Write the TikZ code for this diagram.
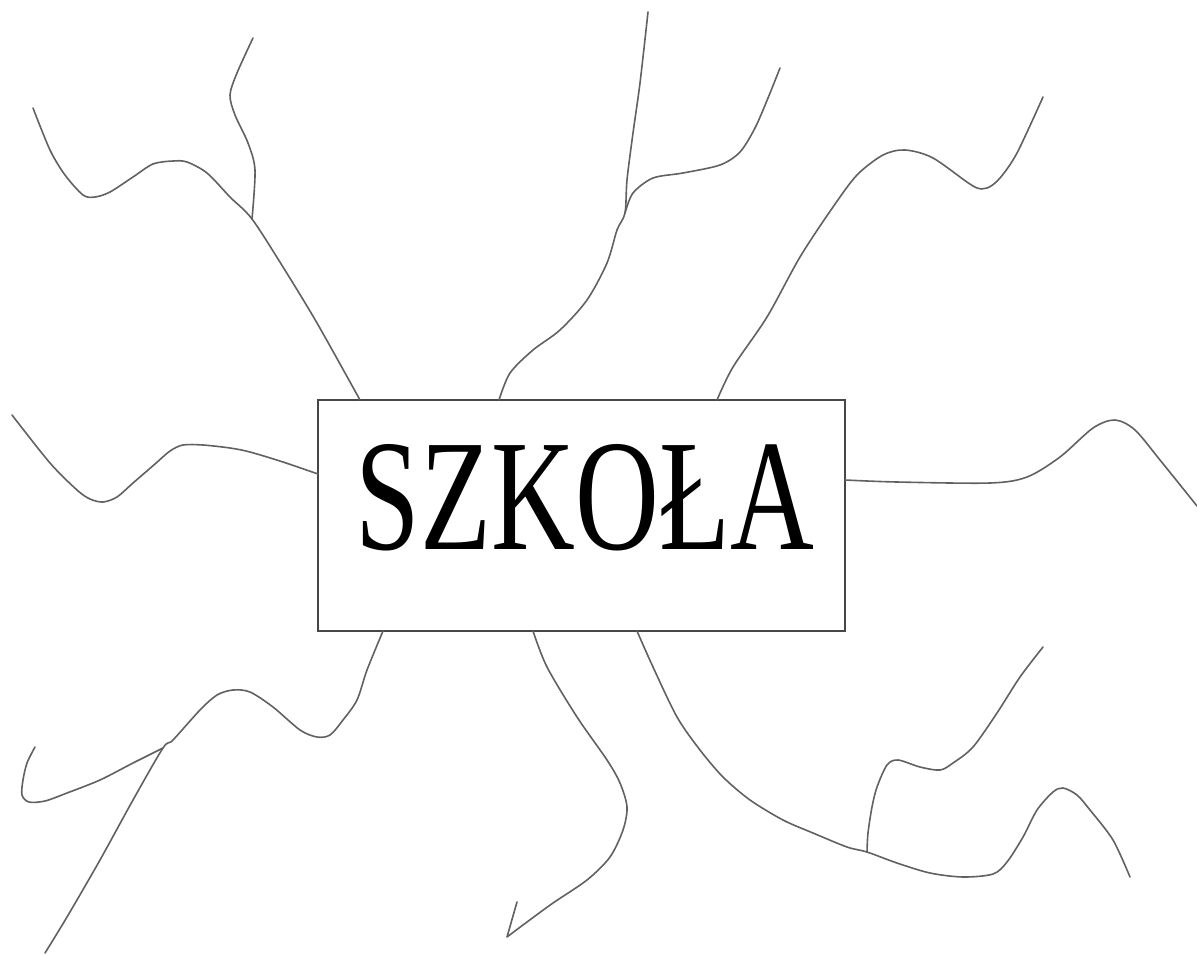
\documentclass[tikz,border=0pt]{standalone}
\usepackage{fontspec}
\setmainfont{Liberation Serif}
\usepackage{graphicx}
\begin{document}
\begin{tikzpicture}[x=1pt,y=-1pt,
  branch/.style={draw=black!62,line width=1.6pt,line join=round,line cap=round},
  boxstyle/.style={draw=black!72,line width=1.9pt,rectangle,minimum width=527pt,minimum height=231pt,inner sep=0pt}]
\useasboundingbox (0,0) rectangle (1197,954);
\node[boxstyle] (box) at (581.5,515.5) {};
\node[anchor=base,inner sep=0pt] (label) at (585,549) {\resizebox{458pt}{105pt}{SZKOŁA}};
% attachment points on the box
\coordinate (t1) at (360,400);
\coordinate (t2) at (499,400);
\coordinate (t3) at (717,400);
\coordinate (r1) at (845,480);
\coordinate (l1) at (318,474);
\coordinate (b1) at (383,631);
\coordinate (b2) at (533,631);
\coordinate (b3) at (637,631);
% junctions
\coordinate (jA) at (252,219);
\coordinate (jC) at (625,213);
\coordinate (jH) at (163,748);
\coordinate (jK) at (867,852);
% free ends
\coordinate (eA) at (33,108);
\coordinate (eB) at (253,38);
\coordinate (eC) at (648,12);
\coordinate (eD) at (780,68);
\coordinate (eE) at (1043,97);
\coordinate (eF) at (1197,506);
\coordinate (eG) at (12,415);
\coordinate (eH) at (45,953);
\coordinate (eI) at (35,747);
\coordinate (eJ) at (517,902);
\coordinate (eK) at (1130,877);
\coordinate (eL) at (1043,647);
% upper left
\draw[branch] plot[smooth] coordinates {(t1) (317,323) (283,267) (jA) (230,197) (207,173) (187,162) (173,161) (153,164) (133,177) (110,192) (95,197) (83,195) (65,175) (50,150) (eA)};
\draw[branch] plot[smooth] coordinates {(jA) (255,170) (248,143) (235,115) (230,95) (237,73) (eB)};
% top middle
\draw[branch] plot[smooth] coordinates {(t2) (510,373) (533,350) (560,330) (587,300) (607,263) (617,230) (jC) (627,180) (633,133) (640,83) (eC)};
\draw[branch] plot[smooth] coordinates {(jC) (633,193) (653,178) (683,173) (720,165) (740,152) (755,128) (768,98) (eD)};
% upper right
\draw[branch] plot[smooth] coordinates {(t3) (733,367) (767,317) (800,257) (833,207) (857,175) (883,155) (905,150) (933,158) (973,186) (987,188) (1000,178) (1017,153) (eE)};
% right
\draw[branch] plot[smooth] coordinates {(r1) (897,482) (990,483) (1027,477) (1060,457) (1093,428) (1115,420) (1135,430) (1160,460) (eF)};
% left
\draw[branch] plot[smooth] coordinates {(l1) (283,462) (250,452) (230,448) (203,445) (183,445) (170,451) (155,464) (133,483) (117,497) (103,502) (90,499) (77,490) (50,463) (eG)};
% lower left
\draw[branch] plot[smooth] coordinates {(b1) (367,670) (357,700) (343,720) (330,735) (317,737) (300,730) (273,707) (250,692) (233,690) (217,695) (200,710) (173,740) (jH) (133,800) (100,860) (67,917) (eH)};
\draw[branch] plot[smooth] coordinates {(jH) (133,763) (100,780) (67,793) (45,801) (29,802) (22,795) (23,780) (27,763) (eI)};
% bottom middle
\draw[branch] plot[smooth] coordinates {(b2) (547,667) (577,717) (607,760) (620,783) (627,807) (623,830) (610,857) (587,880) (553,903) (527,922) (507,937)} -- (eJ);
% lower right
\draw[branch] plot[smooth] coordinates {(b3) (653,667) (677,717) (700,750) (723,777) (750,800) (783,820) (813,833) (847,847) (jK) (897,863) (930,873) (963,877) (993,874) (1007,862) (1023,837) (1037,810) (1053,792) (1063,788) (1077,795) (1090,810) (1113,840) (eK)};
\draw[branch] plot[smooth] coordinates {(jK) (868,833) (872,807) (877,787) (887,765) (898,760) (920,767) (940,770) (953,763) (973,747) (997,713) (1020,677) (eL)};
\end{tikzpicture}
\end{document}
